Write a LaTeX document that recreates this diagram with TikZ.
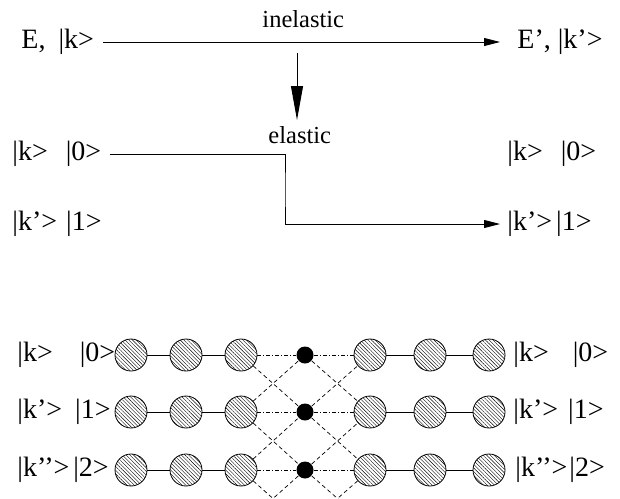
\documentclass[tikz,border=0pt]{standalone}
\usepackage{fontspec}
\setmainfont{Liberation Serif}
\usetikzlibrary{arrows.meta,patterns.meta}
\begin{document}
\begin{tikzpicture}[x=1pt,y=-1pt,line width=0.9pt,
  lbl/.style={inner sep=0pt, anchor=west, font=\fontsize{28}{30}\selectfont},
  smalltxt/.style={inner sep=0pt, anchor=base west, font=\fontsize{24.5}{26}\selectfont},
  hatc/.style={circle, draw, line width=0.8pt, minimum size=32pt, inner sep=0pt,
    pattern={Lines[angle=-45,distance=2.6pt,line width=0.4pt]}},
  bdot/.style={circle, fill=black, minimum size=17pt, inner sep=0pt},
  harrow/.style={-{Triangle[length=16pt,width=8pt]}},
  varrow/.style={-{Triangle[length=34pt,width=12pt]}},
  dsh/.style={line width=0.7pt, dash pattern=on 4pt off 3pt},
  dshdot/.style={line width=0.7pt, dash pattern=on 4pt off 2pt on 1pt off 2pt}
]
\useasboundingbox (0,0) rectangle (620,498);
\clip (0,0) rectangle (620,498);

% top: inelastic
\node[lbl] (ein) at (21,42) {E,\hspace{13pt}|k>};
\node[lbl] (eout) at (517,42) {E',\hspace{7pt}|k'>};
\draw[harrow] ([xshift=9pt]ein.east) -- ([xshift=-17pt]eout.west);
\node[smalltxt] (inel) at (262,27) {inelastic};
\coordinate (dtop) at (297,53);
\coordinate (dbot) at (297,120);
\draw[varrow] (dtop) -- (dbot);

% middle: elastic
\node[smalltxt] (el) at (268,143) {elastic};
\node[lbl] (m0) at (12,154) {|k>\hspace{18pt}|0>};
\node[lbl] (m1) at (12,224) {|k'>\hspace{9pt}|1>};
\node[lbl] (r0) at (507,154) {|k>\hspace{18pt}|0>};
\node[lbl] (r1) at (507,224) {|k'>\hspace{4pt}|1>};
\coordinate (ck) at (285,190);
\draw[harrow] ([xshift=8pt]m0.east) -| (ck) |- ([xshift=-7pt]r1.west);

% bottom lattice
\node[lbl] (l0) at (17,355) {|k>\hspace{27pt}|0>};
\node[lbl] (l1) at (17,412) {|k'>\hspace{13pt}|1>};
\node[lbl] (l2) at (17,470) {|k'{}'>\hspace{4pt}|2>};
\node[lbl] (q0) at (513,355) {|k>\hspace{24pt}|0>};
\node[lbl] (q1) at (513,412) {|k'>\hspace{10pt}|1>};
\node[lbl] (q2) at (515,470) {|k'{}'>\hspace{2pt}|2>};

\foreach \r/\y in {0/355,1/412,2/470} {
  \node[hatc] (a\r) at (131,\y) {};
  \node[hatc] (b\r) at (186,\y) {};
  \node[hatc] (c\r) at (241,\y) {};
  \node[bdot] (d\r) at (305,\y) {};
  \node[hatc] (e\r) at (370,\y) {};
  \node[hatc] (f\r) at (430,\y) {};
  \node[hatc] (g\r) at (489,\y) {};
  \draw (a\r) -- (b\r) -- (c\r);
  \draw (e\r) -- (f\r) -- (g\r);
  \draw[dshdot] (c\r) -- (d\r) -- (e\r);
}
\coordinate (c3) at (241,527);
\coordinate (d3) at (305,527);
\coordinate (e3) at (370,527);

\foreach \r/\s in {0/1,1/2} {
  \draw[dsh] (c\r) -- (d\s);
  \draw[dsh] (c\s) -- (d\r);
  \draw[dsh] (d\r) -- (e\s);
  \draw[dsh] (d\s) -- (e\r);
}
\draw[dsh] (c2) -- (d3);
\draw[dsh] (d2) -- (c3);
\draw[dsh] (d2) -- (e3);
\draw[dsh] (e2) -- (d3);
\end{tikzpicture}
\end{document}
